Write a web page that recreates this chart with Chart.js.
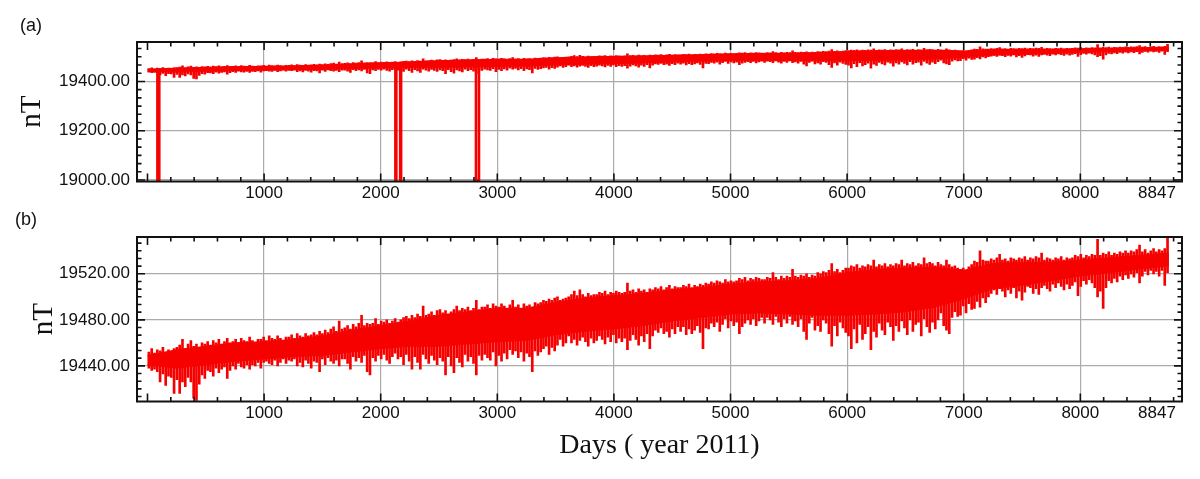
<!DOCTYPE html>
<html>
<head>
<meta charset="utf-8">
<script src="https://cdn.jsdelivr.net/npm/chart.js@4.4.1/dist/chart.umd.min.js"></script>
<style>
  html, body { margin: 0; padding: 0; background: #fff; }
  canvas { display: block; }
</style>
</head>
<body>
<canvas id="panelA" width="1200" height="210"></canvas>
<canvas id="panelB" width="1200" height="269"></canvas>
<script>
// Field values (nT). The quiet level is kept as an
// upper / lower edge every 250 hours; each day adds one needle from its minimum to its maximum.
const coreDays = [0, 250, 500, 750, 1000, 1250, 1500, 1750, 2000, 2250, 2500, 2750,
  3000, 3250, 3500, 3750, 4000, 4250, 4500, 4750, 5000, 5250, 5500, 5750,
  6000, 6250, 6500, 6750, 7000, 7250, 7500, 7750, 8000, 8250, 8500, 8760];
const coreTop = [19449, 19454, 19457, 19460, 19461, 19463, 19466, 19471, 19475, 19479, 19484, 19487,
  19490, 19490, 19495, 19499, 19501, 19503, 19506, 19508, 19511, 19513, 19514, 19516,
  19521, 19524, 19525, 19526, 19523, 19529, 19530, 19530, 19532, 19534, 19536, 19538];
const coreBottom = [19441, 19438, 19441, 19444, 19446, 19448, 19449, 19452, 19455, 19457, 19457, 19459,
  19461, 19462, 19467, 19470, 19472, 19475, 19479, 19482, 19485, 19486, 19485, 19484,
  19484, 19485, 19487, 19491, 19498, 19507, 19510, 19514, 19518, 19521, 19524, 19527];

// lowest value of each day of 2011 (day 0 = hours 0-23), ten days per row
const dailyLow = [
  19438, 19436, 19437, 19435, 19426, 19433, 19423, 19431, 19430, 19416,
  19428, 19416, 19426, 19422, 19430, 19426, 19412, 19410, 19424, 19432,
  19429, 19436, 19435, 19431, 19438, 19434, 19437, 19439, 19429, 19436,
  19440, 19437, 19442, 19439, 19438, 19441, 19437, 19441, 19440, 19443,
  19438, 19443, 19444, 19442, 19441, 19445, 19440, 19443, 19446, 19442,
  19445, 19444, 19446, 19440, 19443, 19439, 19445, 19442, 19438, 19444,
  19443, 19435, 19446, 19441, 19447, 19444, 19442, 19445, 19440, 19446,
  19446, 19442, 19437, 19448, 19444, 19447, 19443, 19449, 19435, 19432,
  19447, 19444, 19449, 19446, 19450, 19445, 19442, 19448, 19451, 19446,
  19448, 19441, 19450, 19444, 19437, 19448, 19443, 19437, 19450, 19446,
  19442, 19449, 19445, 19441, 19447, 19444, 19432, 19448, 19440, 19434,
  19447, 19443, 19439, 19450, 19444, 19448, 19442, 19432, 19449, 19445,
  19450, 19447, 19445, 19452, 19440, 19449, 19444, 19451, 19446, 19454,
  19450, 19453, 19447, 19452, 19444, 19451, 19448, 19435, 19453, 19449,
  19452, 19455, 19457, 19450, 19456, 19453, 19458, 19463, 19457, 19460,
  19466, 19460, 19463, 19458, 19462, 19465, 19461, 19457, 19464, 19460,
  19462, 19466, 19463, 19459, 19465, 19461, 19467, 19460, 19464, 19461,
  19464, 19454, 19462, 19467, 19463, 19458, 19466, 19461, 19468, 19455,
  19466, 19471, 19469, 19473, 19468, 19470, 19465, 19472, 19468, 19474,
  19470, 19474, 19467, 19472, 19468, 19471, 19475, 19469, 19455, 19473,
  19472, 19477, 19474, 19478, 19470, 19476, 19481, 19473, 19479, 19475,
  19478, 19468, 19474, 19477, 19480, 19476, 19481, 19475, 19479, 19482,
  19477, 19482, 19480, 19476, 19483, 19478, 19474, 19481, 19477, 19483,
  19476, 19479, 19474, 19481, 19470, 19463, 19477, 19482, 19471, 19475,
  19470, 19480, 19477, 19468, 19457, 19475, 19466, 19478, 19473, 19469,
  19466, 19455, 19472, 19460, 19476, 19463, 19468, 19474, 19454, 19470,
  19465, 19477, 19471, 19467, 19478, 19474, 19462, 19475, 19470, 19479,
  19473, 19467, 19480, 19470, 19476, 19478, 19466, 19481, 19474, 19469,
  19478, 19472, 19480, 19486, 19475, 19471, 19468, 19482, 19487, 19483,
  19484, 19492, 19486, 19494, 19489, 19490, 19496, 19491, 19499, 19495,
  19500, 19503, 19506, 19502, 19507, 19505, 19500, 19506, 19503, 19508,
  19499, 19505, 19497, 19504, 19509, 19508, 19503, 19507, 19502, 19508,
  19510, 19507, 19505, 19511, 19508, 19512, 19509, 19506, 19511, 19507,
  19510, 19513, 19501, 19509, 19514, 19511, 19515, 19512, 19508, 19500,
  19505, 19490, 19508, 19514, 19512, 19516, 19513, 19518, 19515, 19519,
  19516, 19520, 19517, 19521, 19512, 19518, 19522, 19519, 19523, 19520,
  19522, 19518, 19523, 19510, 19521
];
// highest value of each day, same layout
const dailyHigh = [
  19452, 19455, 19451, 19454, 19453, 19456, 19450, 19454, 19452, 19455,
  19456, 19458, 19463, 19455, 19459, 19462, 19457, 19459, 19456, 19460,
  19459, 19461, 19458, 19462, 19460, 19463, 19459, 19461, 19464, 19460,
  19461, 19463, 19460, 19464, 19462, 19461, 19465, 19462, 19460, 19463,
  19463, 19465, 19462, 19466, 19464, 19463, 19466, 19464, 19462, 19465,
  19465, 19467, 19464, 19468, 19466, 19465, 19468, 19466, 19467, 19469,
  19467, 19470, 19468, 19471, 19469, 19472, 19474, 19470, 19479, 19472,
  19473, 19475, 19472, 19476, 19474, 19477, 19484, 19475, 19477, 19476,
  19477, 19481, 19476, 19479, 19478, 19480, 19477, 19479, 19481, 19478,
  19480, 19482, 19483, 19481, 19484, 19482, 19485, 19483, 19492, 19484,
  19485, 19487, 19484, 19488, 19489, 19486, 19488, 19485, 19487, 19489,
  19492, 19488, 19490, 19489, 19491, 19488, 19490, 19497, 19489, 19491,
  19491, 19493, 19490, 19494, 19492, 19491, 19494, 19492, 19490, 19493,
  19497, 19491, 19493, 19490, 19494, 19492, 19493, 19491, 19495, 19494,
  19495, 19497, 19496, 19498, 19497, 19499, 19500, 19497, 19498, 19499,
  19500, 19502, 19505, 19501, 19506, 19502, 19500, 19503, 19501, 19502,
  19502, 19504, 19503, 19505, 19502, 19504, 19503, 19505, 19504, 19503,
  19504, 19512, 19505, 19506, 19504, 19507, 19505, 19506, 19504, 19507,
  19506, 19508, 19507, 19509, 19506, 19508, 19510, 19507, 19509, 19508,
  19508, 19510, 19509, 19511, 19508, 19510, 19509, 19511, 19510, 19512,
  19511, 19513, 19512, 19514, 19513, 19512, 19515, 19513, 19514, 19513,
  19514, 19516, 19515, 19517, 19514, 19516, 19515, 19517, 19516, 19515,
  19515, 19517, 19516, 19521, 19517, 19515, 19518, 19516, 19518, 19517,
  19524, 19518, 19517, 19519, 19518, 19520, 19517, 19519, 19518, 19521,
  19520, 19522, 19521, 19523, 19529, 19522, 19524, 19521, 19523, 19525,
  19525, 19527, 19526, 19528, 19525, 19527, 19526, 19528, 19527, 19532,
  19526, 19528, 19527, 19529, 19526, 19528, 19527, 19529, 19528, 19532,
  19527, 19529, 19528, 19530, 19527, 19529, 19528, 19534, 19529, 19530,
  19529, 19527, 19530, 19528, 19527, 19532, 19528, 19526, 19527, 19525,
  19524, 19525, 19523, 19526, 19528, 19531, 19530, 19540, 19532, 19531,
  19531, 19533, 19532, 19534, 19537, 19532, 19533, 19531, 19534, 19533,
  19532, 19534, 19533, 19535, 19532, 19534, 19533, 19535, 19534, 19538,
  19532, 19534, 19533, 19532, 19534, 19533, 19535, 19532, 19534, 19533,
  19534, 19536, 19535, 19537, 19534, 19536, 19535, 19537, 19536, 19550,
  19536, 19538, 19537, 19539, 19536, 19538, 19537, 19539, 19538, 19540,
  19538, 19540, 19539, 19541, 19545, 19539, 19541, 19538, 19540, 19542,
  19539, 19541, 19540, 19542, 19551
];
const hoursPerDay = 24;

// gaps in the raw record, which drop to the fill value in panel (a)
const gapStart = [85, 2126, 2167, 2817];
const gapEnd = [101, 2134, 2175, 2843];
const gapEdge = [19443, 19468, 19468, 19470];
const gapFill = 19000;

const xTicks = [1000, 2000, 3000, 4000, 5000, 6000, 7000, 8000];
const lastDayLabel = "8847";
const yTicksA = [19000, 19200, 19400];
const yTicksB = [19440, 19480, 19520];

const RED = "rgb(246, 0, 0)";
const SANS = '"Liberation Sans", Arial, sans-serif';
const SERIF = '"Liberation Serif", "Times New Roman", serif';

function buildDatasets(withGaps) {
  const top = coreDays.map((d, i) => ({ x: d, y: coreTop[i] }));
  const bottom = coreDays.map((d, i) => ({ x: d, y: coreBottom[i] }));
  const needles = dailyLow.map((lo, day) => ({
    x: day * hoursPerDay + hoursPerDay / 2,
    y: [lo, dailyHigh[day]],
  }));

  const sets = [
    { type: "line", data: top, borderColor: RED, borderWidth: 1, pointRadius: 0, fill: false },
    { type: "line", data: bottom, borderColor: RED, borderWidth: 1, pointRadius: 0,
      fill: "-1", backgroundColor: RED },
    { type: "bar", data: needles, backgroundColor: RED, borderWidth: 0, barThickness: 2, grouped: false },
  ];
  if (withGaps) {
    const gapPts = [];
    gapStart.forEach((s, i) => {
      gapPts.push({ x: s, y: gapEdge[i] }, { x: s, y: gapFill },
                  { x: gapEnd[i], y: gapFill }, { x: gapEnd[i], y: gapEdge[i] },
                  { x: gapEnd[i] + 1, y: null });
    });
    sets.push({ type: "line", data: gapPts, borderColor: RED, borderWidth: 2.6,
                pointRadius: 0, fill: false, spanGaps: false });
  }
  return sets;
}

// frame with inward ticks on all four sides, plus a few free labels
const framePlugin = {
  id: "frame",
  afterDraw(chart, args, opts) {
    const { ctx, chartArea: a, scales: { x, y } } = chart;
    ctx.save();
    ctx.strokeStyle = "#111";
    ctx.lineWidth = 1.6;
    ctx.beginPath();
    for (let v = 0; v <= x.max; v += 200) {
      const px = x.getPixelForValue(v);
      const len = v % 1000 === 0 ? 8 : 4.5;
      ctx.moveTo(px, a.bottom); ctx.lineTo(px, a.bottom - len);
      ctx.moveTo(px, a.top); ctx.lineTo(px, a.top + len);
    }
    const step = opts.yMajor / 6;
    for (let k = -30; k <= 120; k++) {
      const v = opts.yBase + k * step;
      if (v < y.min || v > y.max) continue;
      const py = y.getPixelForValue(v);
      const len = k % 6 === 0 ? 8 : 4.5;
      ctx.moveTo(a.left, py); ctx.lineTo(a.left + len, py);
      ctx.moveTo(a.right, py); ctx.lineTo(a.right - len, py);
    }
    ctx.stroke();
    ctx.lineWidth = 2;
    ctx.strokeRect(a.left, a.top, a.right - a.left, a.bottom - a.top);

    ctx.fillStyle = "#111";
    ctx.font = "17px " + SANS;
    ctx.textAlign = "center";
    ctx.textBaseline = "top";
    ctx.fillText(lastDayLabel, 1157, a.bottom + 3);
    ctx.font = "18px " + SANS;
    ctx.textBaseline = "middle";
    ctx.fillText(opts.panel, opts.panelX, opts.panelY);
    ctx.restore();
  },
};

function makeChart(id, cfg) {
  return new Chart(document.getElementById(id), {
    type: "line",
    data: { datasets: buildDatasets(cfg.withGaps) },
    options: {
      responsive: false,
      animation: false,
      events: [],
      layout: { padding: { left: 0, right: 18, top: cfg.top, bottom: 0 } },
      plugins: {
        legend: { display: false },
        tooltip: { enabled: false },
        frame: cfg.frame,
      },
      scales: {
        x: {
          type: "linear",
          min: -90,
          max: 8872,
          offset: false,
          afterBuildTicks: (s) => { s.ticks = xTicks.map((v) => ({ value: v })); },
          afterFit: (s) => { s.height = cfg.xHeight; },
          grid: { color: "#ababab", lineWidth: 1.2, drawTicks: false, offset: false },
          border: { display: false },
          ticks: {
            autoSkip: false, maxRotation: 0, padding: 2, color: "#111",
            font: { family: SANS, size: 17 },
            callback: (v) => String(v),
          },
          title: cfg.xTitle,
        },
        y: {
          min: cfg.yMin,
          max: cfg.yMax,
          afterBuildTicks: (s) => { s.ticks = cfg.yTicks.map((v) => ({ value: v })); },
          afterFit: (s) => { s.width = 137; },
          grid: { color: "#ababab", lineWidth: 1.2, drawTicks: false },
          border: { display: false },
          ticks: {
            padding: 7, color: "#111",
            font: { family: SANS, size: 17 },
            callback: (v) => v.toFixed(2),
          },
          title: {
            display: true, text: "nT", color: "#111",
            font: { family: SERIF, size: 29, lineHeight: 1 },
            padding: { top: cfg.yTitlePad, bottom: 0 },
          },
        },
      },
    },
    plugins: [framePlugin],
  });
}

makeChart("panelA", {
  withGaps: true,
  top: 42,
  xHeight: 28.5,
  yMin: 18994, yMax: 19560,
  yTicks: yTicksA,
  yTitlePad: 18,
  xTitle: { display: false },
  frame: { yBase: 19000, yMajor: 200, panel: "(a)", panelX: 31, panelY: 26 },
});

makeChart("panelB", {
  withGaps: false,
  top: 27,
  xHeight: 77.5,
  yMin: 19409, yMax: 19552,
  yTicks: yTicksB,
  yTitlePad: 29.5,
  xTitle: {
    display: true, text: "Days ( year 2011)", color: "#111",
    font: { family: SERIF, size: 28, lineHeight: 1.2 },
    padding: { top: 0, bottom: 16.5 },
  },
  frame: { yBase: 19440, yMajor: 40, panel: "(b)", panelX: 26, panelY: 10 },
});
</script>
</body>
</html>
